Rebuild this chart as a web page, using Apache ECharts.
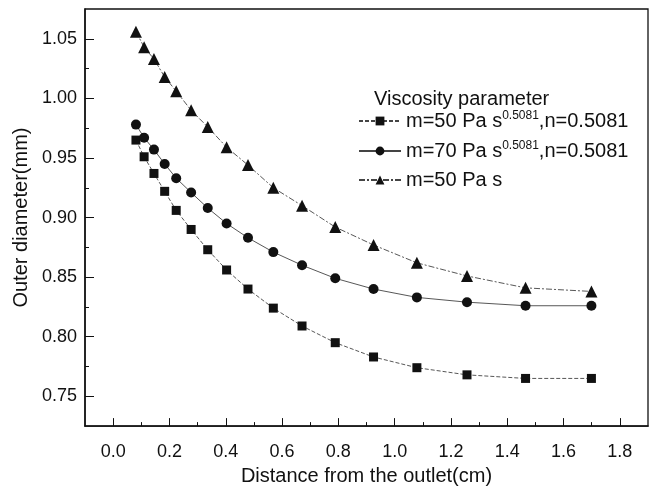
<!DOCTYPE html>
<html>
<head>
<meta charset="utf-8">
<script src="https://cdn.jsdelivr.net/npm/echarts@6/dist/echarts.min.js"></script>
<style>
  html, body {margin: 0; padding: 0; background: #fff;}
  #outerDiameter {width: 650px; height: 491px;}
</style>
</head>
<body>
<div id="outerDiameter"></div>
<script>
// distance from the outlet (cm)
const distance = [0.081, 0.110, 0.145, 0.183, 0.224, 0.277, 0.336, 0.403, 0.479, 0.569, 0.671, 0.789, 0.925, 1.079, 1.257, 1.465, 1.699];
// outer diameter (mm)
const m50pl = [0.965, 0.951, 0.937, 0.922, 0.906, 0.890, 0.873, 0.856, 0.840, 0.824, 0.809, 0.795, 0.783, 0.774, 0.768, 0.765, 0.765];
const m70pl = [0.978, 0.967, 0.957, 0.945, 0.933, 0.921, 0.908, 0.895, 0.883, 0.871, 0.860, 0.849, 0.840, 0.833, 0.829, 0.826, 0.826];
const m50newton = [1.056, 1.043, 1.033, 1.018, 1.006, 0.990, 0.976, 0.959, 0.944, 0.925, 0.910, 0.892, 0.877, 0.862, 0.851, 0.841, 0.838];

const xTicks = [0, 0.2, 0.4, 0.6, 0.8, 1.0, 1.2, 1.4, 1.6, 1.8];
const xMinor = [0.1, 0.3, 0.5, 0.7, 0.9, 1.1, 1.3, 1.5, 1.7];
const yTicks = [0.75, 0.80, 0.85, 0.90, 0.95, 1.00, 1.05];
const yMinor = [0.775, 0.825, 0.875, 0.925, 0.975, 1.025];

const legendNames = ['m50pl', 'm70pl', 'm50newton'];
const legendText = {
  m50pl: '{t|m=50 Pa s}{sup|0.5081}{t|,n=0.5081}',
  m70pl: '{t|m=70 Pa s}{sup|0.5081}{t|,n=0.5081}',
  m50newton: '{t|m=50 Pa s}'
};

const font = 'Liberation Sans, Arial, sans-serif';

function pairs(ys) {
  return distance.map((x, i) => [x, ys[i]]);
}

function makeSeries(name, ys, symbol, size, dash) {
  return {
    name: name,
    type: 'line',
    data: pairs(ys),
    symbol: symbol,
    symbolSize: size,
    xAxisIndex: 0,
    yAxisIndex: 0,
    itemStyle: {color: '#111'},
    lineStyle: {color: '#444', width: 0.9, type: dash},
    emphasis: {disabled: true},
    animation: false
  };
}

const chart = echarts.init(document.getElementById('outerDiameter'), null, {width: 650, height: 491});

const option = {
  backgroundColor: '#fff',
  textStyle: {fontFamily: font},
  title: {
    text: 'Viscosity parameter',
    left: 369,
    top: 84,
    textStyle: {fontFamily: font, fontSize: 20, fontWeight: 'normal', color: '#111'}
  },
  legend: {
    data: legendNames,
    orient: 'vertical',
    left: 358,
    top: 110,
    padding: 0,
    itemGap: 9,
    itemWidth: 42,
    itemHeight: 11,
    formatter: function (name) { return legendText[name]; },
    textStyle: {
      color: '#111',
      rich: {
        t: {fontFamily: font, fontSize: 20, color: '#111'},
        sup: {fontFamily: font, fontSize: 12, color: '#111', verticalAlign: 'bottom', padding: [0, 0, 10, 0]}
      }
    }
  },
  grid: {
    left: 85, right: 2, top: 9, bottom: 59,
    show: true,
    borderColor: '#111',
    borderWidth: 1.3
  },
  xAxis: [
    {
      type: 'value',
      min: -0.1,
      max: 1.9,
      name: 'Distance from the outlet(cm)',
      nameLocation: 'middle',
      nameGap: 33,
      nameTextStyle: {fontFamily: font, fontSize: 20, color: '#111'},
      axisLine: {onZero: false, lineStyle: {color: '#111', width: 1.5}},
      axisTick: {inside: true, length: 8, customValues: xTicks, lineStyle: {color: '#111'}},
      axisLabel: {
        customValues: xTicks,
        margin: 17,
        fontFamily: font,
        fontSize: 18,
        color: '#111',
        formatter: function (v) { return v.toFixed(1); }
      },
      splitLine: {show: false}
    },
    {
      type: 'value',
      min: -0.1,
      max: 1.9,
      position: 'bottom',
      axisLine: {show: false, onZero: false},
      axisTick: {show: true, inside: true, length: 4, customValues: xMinor, lineStyle: {color: '#111'}},
      axisLabel: {show: false},
      splitLine: {show: false}
    }
  ],
  yAxis: [
    {
      type: 'value',
      min: 0.725,
      max: 1.075,
      name: 'Outer diameter(mm)',
      nameLocation: 'middle',
      nameGap: 51,
      nameTextStyle: {fontFamily: font, fontSize: 20, color: '#111'},
      axisLine: {show: true, onZero: false, lineStyle: {color: '#111', width: 1.5}},
      axisTick: {show: true, inside: true, length: 9, customValues: yTicks, lineStyle: {color: '#111'}},
      axisLabel: {
        customValues: yTicks,
        margin: 8,
        fontFamily: font,
        fontSize: 18,
        color: '#111',
        formatter: function (v) { return v.toFixed(2); }
      },
      splitLine: {show: false}
    },
    {
      type: 'value',
      min: 0.725,
      max: 1.075,
      position: 'left',
      axisLine: {show: false, onZero: false},
      axisTick: {show: true, inside: true, length: 4, customValues: yMinor, lineStyle: {color: '#111'}},
      axisLabel: {show: false},
      splitLine: {show: false}
    }
  ],
  series: [
    makeSeries('m50pl', m50pl, 'rect', 9, [4, 2]),
    makeSeries('m70pl', m70pl, 'circle', 10, 'solid'),
    makeSeries('m50newton', m50newton, 'triangle', 12, [6, 2, 2, 2])
  ]
};

chart.setOption(option);
</script>
</body>
</html>
